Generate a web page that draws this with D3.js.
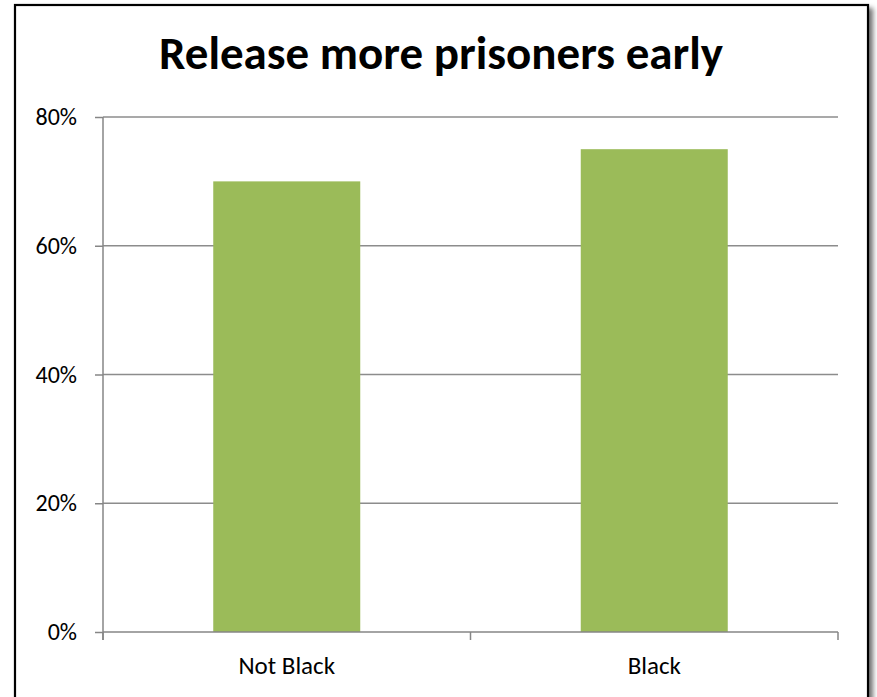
<!DOCTYPE html>
<html><head><meta charset="utf-8">
<script src="https://cdn.jsdelivr.net/npm/d3@7"></script>
<style>body{margin:0;background:#fff;overflow:hidden}svg{display:block}</style>
</head><body>
<script>
const categories = ["Not Black", "Black"];
const values = [0.70, 0.75];
const yTicks = [0, 0.2, 0.4, 0.6, 0.8];
const title = "Release more prisoners early";

(function(){
const W = 877, H = 697;
const svg = d3.select("body").append("svg").attr("width", W).attr("height", H);
const defs = svg.append("defs");
const f = defs.append("filter").attr("id","sh").attr("x","-5%").attr("y","-5%").attr("width","115%").attr("height","115%");
f.append("feDropShadow").attr("dx",4).attr("dy",4).attr("stdDeviation",2.5).attr("flood-color","#000").attr("flood-opacity",0.55);

svg.append("rect").attr("x",15).attr("y",5).attr("width",853).attr("height",720)
  .attr("fill","#fff").attr("stroke","#000").attr("stroke-width",2.2).attr("filter","url(#sh)");

const font = "Calibri, Carlito, Lato, 'Open Sans', sans-serif";
svg.append("text").attr("x",441).attr("y",69).attr("text-anchor","middle")
  .style("font-family",font).style("font-weight","bold").style("font-size","47px").text(title);

const pl = 103, pr = 838, pt = 117, pb = 632;
const y = d3.scaleLinear().domain([0,0.8]).range([pb, pt]);
const x = d3.scaleBand().domain(categories).range([pl, pr]).paddingInner(0.6).paddingOuter(0.3);
const xOuter = d3.scaleBand().domain(categories).range([pl, pr]);

svg.append("g").selectAll("line").data(yTicks.filter(d=>d>0)).join("line")
  .attr("x1",pl).attr("x2",pr).attr("y1",d=>y(d)).attr("y2",d=>y(d))
  .attr("stroke","#8c8c8c").attr("stroke-width",1.5);

svg.append("g").selectAll("rect").data(categories).join("rect")
  .attr("x",d=>x(d)).attr("width",x.bandwidth())
  .attr("y",(d,i)=>y(values[i])).attr("height",(d,i)=>pb-y(values[i]))
  .attr("fill","#9BBB59");

const yAxis = d3.axisLeft(y).tickValues(yTicks).tickFormat(d3.format(".0%")).tickSize(8).tickPadding(18);
const gy = svg.append("g").attr("transform",`translate(${pl},0)`).call(yAxis);
gy.select(".domain").attr("stroke","#868686").attr("stroke-width",1.5).attr("d",`M0,${pt}V${pb+8}`);
gy.selectAll(".tick line").attr("stroke","#868686").attr("stroke-width",1.5);
gy.selectAll("text").style("font-family",font).style("font-size","24px").attr("fill","#000");

const gx = svg.append("g").attr("transform",`translate(0,${pb})`);
gx.append("line").attr("x1",pl).attr("x2",pr).attr("stroke","#868686").attr("stroke-width",1.5);
const bounds = [pl, ...categories.map(c=>xOuter(c)+xOuter.bandwidth())];
gx.selectAll("line.t").data(bounds).join("line").attr("class","t")
  .attr("x1",d=>d).attr("x2",d=>d).attr("y1",0).attr("y2",8).attr("stroke","#868686").attr("stroke-width",1.5);
gx.selectAll("text").data(categories).join("text")
  .attr("x",d=>x(d)+x.bandwidth()/2).attr("y",42).attr("text-anchor","middle")
  .style("font-family",font).style("font-size","25px").text(d=>d);
})();
</script>
</body></html>
